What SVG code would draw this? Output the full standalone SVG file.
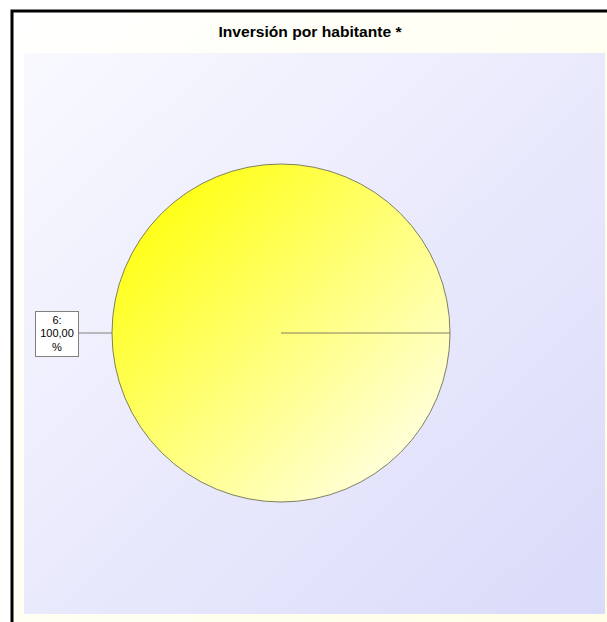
<svg xmlns="http://www.w3.org/2000/svg" width="607" height="622" viewBox="0 0 607 622">
  <defs>
    <linearGradient id="bgGrad" x1="0" y1="0" x2="1" y2="1">
      <stop offset="0" stop-color="#ffffff"/>
      <stop offset="1" stop-color="#ffffe6"/>
    </linearGradient>
    <linearGradient id="plotGrad" x1="0" y1="0" x2="1" y2="1">
      <stop offset="0" stop-color="#f9f9ff"/>
      <stop offset="1" stop-color="#dadafa"/>
    </linearGradient>
    <linearGradient id="pieGrad" x1="0.15" y1="0.15" x2="0.85" y2="0.85">
      <stop offset="0" stop-color="#ffff1a"/>
      <stop offset="1" stop-color="#ffffd6"/>
    </linearGradient>
  </defs>
  <style>
    .title { font-family: "Liberation Sans", Arial, sans-serif; font-size: 15px; font-weight: bold; fill: #000; }
    .lbl { font-family: "Liberation Sans", Arial, sans-serif; font-size: 11px; fill: #000; }
    .conn { stroke: #808080; stroke-width: 1; fill: none; }
  </style>
  <rect x="0" y="0" width="607" height="622" fill="#ffffff"/>
  <g id="frame">
    <rect x="12" y="11" width="600" height="620" fill="url(#bgGrad)" stroke="#000" stroke-width="3"/>
  </g>
  <g id="titleGroup">
    <text class="title" x="310" y="37" text-anchor="middle" textLength="183" lengthAdjust="spacingAndGlyphs">Inversión por habitante *</text>
  </g>
  <g id="plotArea">
    <rect x="24" y="53" width="581" height="561" fill="url(#plotGrad)"/>
  </g>
  <g id="pie">
    <circle cx="281" cy="333" r="169" fill="url(#pieGrad)" stroke="#808060" stroke-width="1"/>
    <line x1="281" y1="333" x2="450" y2="333" stroke="#808060" stroke-width="1"/>
  </g>
  <g id="connectors">
    <line class="conn" x1="78" y1="333" x2="112" y2="333"/>
  </g>
  <g id="label6">
    <rect x="35.5" y="311.5" width="43" height="45" fill="#ffffff" stroke="#808080" stroke-width="1"/>
    <text class="lbl" x="57" y="324" text-anchor="middle">6:</text>
    <text class="lbl" x="57" y="337" text-anchor="middle">100,00</text>
    <text class="lbl" x="57" y="351" text-anchor="middle">%</text>
  </g>
</svg>
